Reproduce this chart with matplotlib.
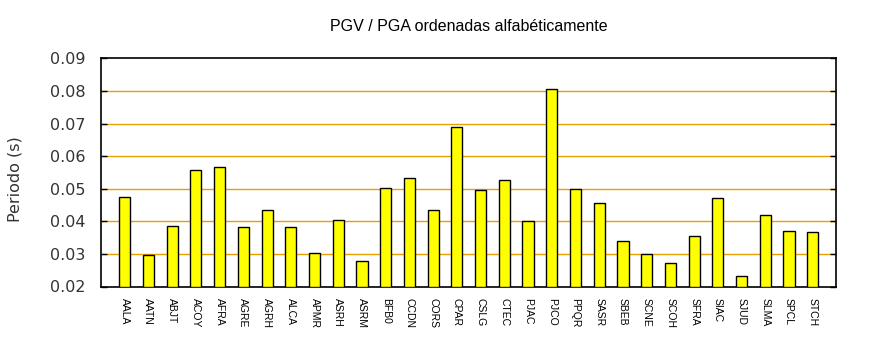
import matplotlib.pyplot as plt

# Estaciones y valores PGV/PGA
estaciones = ['AALA', 'AATN', 'ABJT', 'ACOY', 'AFRA', 'AGRE', 'AGRH', 'ALCA',
              'APMR', 'ASRH', 'ASRM', 'BFB0', 'CCDN', 'CORS', 'CPAR', 'CSLG',
              'CTEC', 'PJAC', 'PJCO', 'PPQR', 'SASR', 'SBEB', 'SCNE', 'SCOH',
              'SFRA', 'SIAC', 'SJUD', 'SLMA', 'SPCL', 'STCH']
periodos = [0.0476, 0.0298, 0.0387, 0.0558, 0.0567, 0.0384, 0.0436, 0.0384,
            0.0304, 0.0405, 0.0278, 0.0503, 0.0534, 0.0436, 0.0690, 0.0497,
            0.0528, 0.0402, 0.0806, 0.0500, 0.0457, 0.0341, 0.0301, 0.0273,
            0.0356, 0.0472, 0.0231, 0.0420, 0.0371, 0.0368]
yticks = [0.02, 0.03, 0.04, 0.05, 0.06, 0.07, 0.08, 0.09]

fig = plt.figure(figsize=(8.7, 3.5), dpi=100)
ax = fig.add_axes([101 / 870, 1 - 286.5 / 350, (836.5 - 101) / 870, (286.5 - 58.3) / 350])

x = list(range(len(estaciones)))
ax.bar(x, [p - 0.02 for p in periodos], bottom=0.02, width=0.47,
       color='#ffff00', edgecolor='black', linewidth=1, zorder=3)

ax.set_xlim(-1, len(estaciones))
ax.set_ylim(0.02, 0.09)
ax.set_yticks(yticks)
ax.set_yticklabels([f'{v:.2f}' for v in yticks], fontsize=11.5, color='#333333',
                   family='DejaVu Sans')
ax.set_xticks(x)
ax.set_xticklabels(estaciones, rotation=270, fontsize=7.5, family='Liberation Sans')
ax.tick_params(axis='x', length=0, pad=8)
ax.tick_params(axis='y', direction='in', right=True, length=4, width=1, pad=11)

for y in yticks[1:-1]:
    ax.axhline(y, color='#e6a000', linewidth=1, zorder=1)

for s in ax.spines.values():
    s.set_linewidth(1.2)

ax.set_ylabel('Periodo (s)', fontsize=11.5, color='#333333', family='DejaVu Sans',
              labelpad=20)
ax.yaxis.label.set_y(0.47)
ax.set_title('PGV / PGA ordenadas alfabéticamente', fontsize=11.5,
             family='Liberation Sans', pad=20)

fig.savefig('out.png', dpi=100)
